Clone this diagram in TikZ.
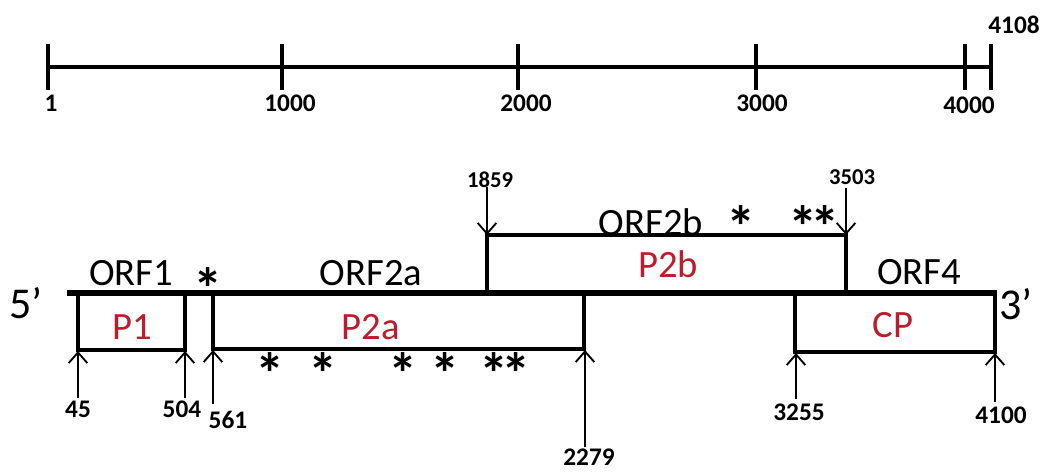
\documentclass[tikz,border=0pt]{standalone}
\usepackage{fontspec}
\setmainfont{Carlito}
\usetikzlibrary{arrows.meta}
\definecolor{pred}{RGB}{190,28,45}
\begin{document}
\begin{tikzpicture}[x=0.75pt,y=-0.75pt,
  num/.style={font=\fontsize{19}{19}\selectfont\bfseries, inner sep=0},
  numsm/.style={font=\fontsize{17}{17}\selectfont\bfseries, inner sep=0},
  orf/.style={font=\fontsize{29}{29}\selectfont, inner sep=0},
  prot/.style={font=\fontsize{29}{29}\selectfont, text=pred, inner sep=0},
  endlbl/.style={font=\fontsize{33}{33}\selectfont, inner sep=0},
  star/.style={font=\fontsize{44}{44}\selectfont\bfseries, inner sep=0, anchor=base},
  scaleline/.style={line width=3.4pt},
  genome/.style={line width=4pt},
  boxline/.style={line width=2.7pt},
  arr/.style={line width=1.4pt, -{Straight Barb[length=8pt,width=14pt,line width=1.4pt]}},
]
\useasboundingbox (0,0) rectangle (1048,472);

% ---------- scale bar ----------
\coordinate (s0) at (48,67);
\coordinate (s5) at (991,67);
\draw[scaleline] (s0) -- (s5);
\foreach \x/\n in {48/t1, 282/t1000, 518/t2000, 756/t3000, 965/t4000, 991/t4108}
  \draw[scaleline] (\x,44) coordinate (\n) -- (\x,90);
\node[num] (n1)    at (51,103)  {1};
\node[num] (n1000) at (290,103) {1000};
\node[num] (n2000) at (526,103) {2000};
\node[num] (n3000) at (762,103) {3000};
\node[num] (n4000) at (969,105) {4000};
\node[num] (n4108) at (1014,25) {4108};

% ---------- genome ----------
\coordinate (g0) at (67,293);
\coordinate (g1) at (997,293);
\draw[genome] (g0) -- (g1);
\node[endlbl] (five)  at (26,303)   {5’};
\node[endlbl] (three) at (1016,304) {3’};

% boxes
\draw[boxline] (78,293) |- (185,350) -- (185,293);
\draw[boxline] (213,293) |- (584,349) -- (584,293);
\draw[boxline] (487,293) |- (846,235) -- (846,293);
\draw[boxline] (795,293) |- (995,352) -- (995,293);

% ORF labels
\node[orf] (orf1)  at (131,273) {ORF1};
\node[orf] (orf2a) at (371,273) {ORF2a};
\node[orf] (orf2b) at (651,222) {ORF2b};
\node[orf] (orf4)  at (919,272) {ORF4};

% protein labels
\node[prot] (p1)  at (132,327) {P1};
\node[prot] (p2a) at (371,327) {P2a};
\node[prot] (p2b) at (668,264) {P2b};
\node[prot] (cp)  at (893,325) {CP};

% stars
\node[star] (st0) at (208,309) {*};
\node[star] (st1) at (741,247) {*};
\node[star] (st2) at (814,247) {*\kern-0.12em*};
\node[star] (st3) at (270,394) {*};
\node[star] (st4) at (323,394) {*};
\node[star] (st5) at (403,394) {*};
\node[star] (st6) at (445,394) {*};
\node[star] (st7) at (505,394) {*\kern-0.12em*};

% ---------- position arrows ----------
\node[numsm] (l1859) at (490,180) {1859};
\node[numsm] (l3503) at (852,177) {3503};
\coordinate (a1859) at (487,187);
\coordinate (b1859) at (487,235);
\coordinate (a3503) at (846,188);
\coordinate (b3503) at (846,235);
\draw[arr] (a1859) -- (b1859);
\draw[arr] (a3503) -- (b3503);

\node[num] (l45)   at (78,409)  {45};
\node[num] (l504)  at (182,409) {504};
\node[num] (l561)  at (228,420) {561};
\node[num] (l2279) at (589,457) {2279};
\node[num] (l3255) at (799,412) {3255};
\node[num] (l4100) at (1001,415) {4100};
\coordinate (a45) at (78,398);    \coordinate (b45) at (78,351);
\coordinate (a504) at (185,398);  \coordinate (b504) at (185,351);
\coordinate (a561) at (213,404);  \coordinate (b561) at (213,350);
\coordinate (a2279) at (585,447); \coordinate (b2279) at (585,350);
\coordinate (a3255) at (796,399); \coordinate (b3255) at (796,353);
\coordinate (a4100) at (995,402); \coordinate (b4100) at (995,353);
\foreach \n in {45,504,561,2279,3255,4100}
  \draw[arr] (a\n) -- (b\n);
\end{tikzpicture}
\end{document}
